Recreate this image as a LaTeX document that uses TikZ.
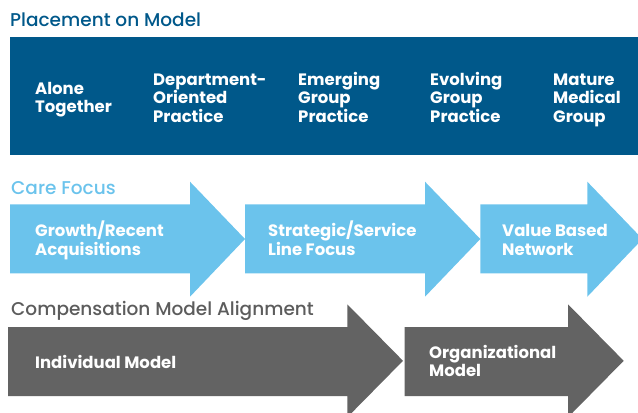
\documentclass[tikz,border=0pt]{standalone}
\usepackage{fontspec}
\setmainfont{Poppins}
\newfontfamily\labelfont{Poppins Bold}
\newfontfamily\titlefont{Poppins Medium}
\definecolor{navy}{RGB}{0,88,138}
\definecolor{sky}{RGB}{107,195,236}
\definecolor{slate}{RGB}{99,99,99}
\definecolor{titlegrey}{RGB}{92,92,92}
\newcommand\ml[1]{\begin{tabular}[t]{@{}l@{}}#1\end{tabular}}
\tikzset{
  lbl/.style={anchor=base west, inner sep=0pt, text=white,
    font=\labelfont\fontsize{16.5bp}{18.3bp}\selectfont},
  ttl/.style={anchor=base west, inner sep=0pt,
    font=\titlefont\fontsize{18.5bp}{21bp}\selectfont},
}
\begin{document}
\begin{tikzpicture}[x=1bp,y=-1bp]
\useasboundingbox (0,0) rectangle (638,412);
\clip (0,0) rectangle (638,412);
% Placement on model
\node[ttl, text=navy] (t1) at (10,26.7) {Placement on Model};
\fill[navy] (10,37) rectangle (638,155);
\node[lbl] (p1) at (35,94.3) {\ml{Alone\\Together}};
\node[lbl] (p2) at (153,85) {\ml{Department-\\Oriented\\Practice}};
\node[lbl] (p3) at (298,85) {\ml{Emerging\\Group\\Practice}};
\node[lbl] (p4) at (430,85) {\ml{Evolving\\Group\\Practice}};
\node[lbl] (p5) at (553,85) {\ml{Mature\\Medical\\Group}};
% Care focus
\node[ttl, text=sky] (t2) at (11,194) {Care Focus};
\fill[sky] (10,204.3) -- (190,204.3) -- (190,181.7) -- (245,239) -- (190,296.7) -- (190,273.3) -- (10,273.3) -- cycle;
\fill[sky] (245,204.3) -- (425,204.3) -- (425,181.7) -- (480.3,239) -- (425,296.7) -- (425,273.3) -- (245,273.3) -- cycle;
\fill[sky] (480.3,204.3) -- (587.3,204.3) -- (587.3,181.7) -- (642.5,239) -- (587.3,296.7) -- (587.3,273.3) -- (480.3,273.3) -- cycle;
\node[lbl] (c1) at (35,236.7) {\ml{Growth/Recent\\Acquisitions}};
\node[lbl] (c2) at (268,236.7) {\ml{Strategic/Service\\Line Focus}};
\node[lbl] (c3) at (502,236.7) {\ml{Value Based\\Network}};
% Compensation
\node[ttl, text=titlegrey] (t3) at (11,315) {Compensation Model Alignment};
\fill[slate] (8,327) -- (347.3,327) -- (347.3,304.3) -- (403,360.8) -- (347.3,417.3) -- (347.3,396) -- (8,396) -- cycle;
\fill[slate] (404.7,327) -- (568,327) -- (568,304.3) -- (623.7,360.8) -- (568,417.3) -- (568,396) -- (404.7,396) -- cycle;
\node[lbl] (m1) at (35,368) {Individual Model};
\node[lbl] (m2) at (429,358) {\ml{Organizational\\Model}};
\end{tikzpicture}
\end{document}
